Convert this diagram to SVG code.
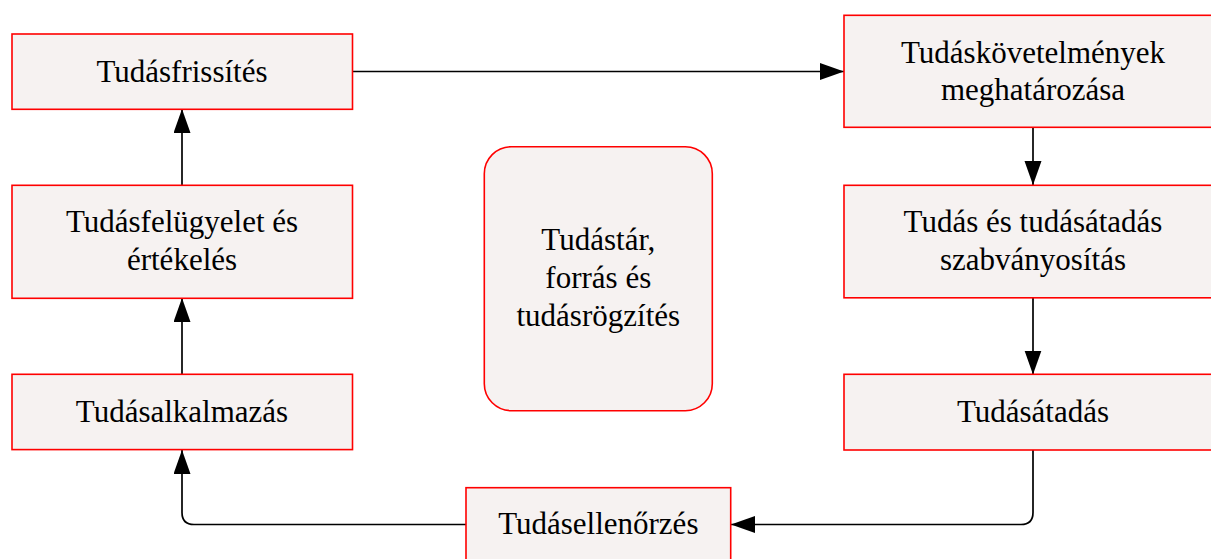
<svg xmlns="http://www.w3.org/2000/svg" width="1211" height="559" viewBox="0 0 1211 559">
<style>
.box{fill:#f6f2f1;stroke:#ff0000;stroke-width:1.6}
.t{font-family:"Liberation Serif","Times New Roman",serif;font-size:31px;fill:#000;text-anchor:middle}
.c{fill:none;stroke:#000;stroke-width:1.7}
</style>
<defs>
<marker id="ah" markerUnits="userSpaceOnUse" markerWidth="26" markerHeight="19" refX="24" refY="8.5" orient="auto">
<path d="M0,0 L24,8.5 L0,17 z" fill="#000"/>
</marker>
</defs>
<rect width="1211" height="559" fill="#fff"/>
<g id="connectors">
<path class="c" d="M352,71.5 H844" marker-end="url(#ah)"/>
<path class="c" d="M1033,127.5 V185" marker-end="url(#ah)"/>
<path class="c" d="M1033,298 V374.5" marker-end="url(#ah)"/>
<path class="c" d="M1033,450 V512.5 Q1033,524.5 1021,524.5 H731" marker-end="url(#ah)"/>
<path class="c" d="M466,524.5 H194 Q182,524.5 182,512.5 V450" marker-end="url(#ah)"/>
<path class="c" d="M182,374.5 V298" marker-end="url(#ah)"/>
<path class="c" d="M182,185 V109" marker-end="url(#ah)"/>
</g>
<g id="n-frissites">
<rect class="box" x="12" y="34" width="340.5" height="75.3"/>
<text class="t" x="182" y="81.5">Tudásfrissítés</text>
</g>
<g id="n-felugyelet">
<rect class="box" x="12" y="185.3" width="340.5" height="113"/>
<text class="t" x="182" y="232">Tudásfelügyelet és</text>
<text class="t" x="182" y="270">értékelés</text>
</g>
<g id="n-alkalmazas">
<rect class="box" x="12" y="374.3" width="340.5" height="75.3"/>
<text class="t" x="182" y="421.5">Tudásalkalmazás</text>
</g>
<g id="n-tudastar">
<rect class="box" x="484.3" y="146.7" width="228" height="264" rx="27" ry="27"/>
<text class="t" x="598.3" y="250">Tudástár,</text>
<text class="t" x="598.3" y="288">forrás és</text>
<text class="t" x="598.3" y="325.5">tudásrögzítés</text>
</g>
<g id="n-kovetelmenyek">
<rect class="box" x="844" y="15.3" width="378" height="112"/>
<text class="t" x="1033" y="62.5">Tudáskövetelmények</text>
<text class="t" x="1033" y="100">meghatározása</text>
</g>
<g id="n-szabvanyositas">
<rect class="box" x="844" y="185.3" width="378" height="112.5"/>
<text class="t" x="1033" y="232">Tudás és tudásátadás</text>
<text class="t" x="1033" y="270">szabványosítás</text>
</g>
<g id="n-atadas">
<rect class="box" x="844" y="374.3" width="378" height="75.7"/>
<text class="t" x="1033" y="421.5">Tudásátadás</text>
</g>
<g id="n-ellenorzes">
<rect class="box" x="466" y="487.7" width="264.7" height="75"/>
<text class="t" x="598.3" y="534">Tudásellenőrzés</text>
</g>
</svg>
